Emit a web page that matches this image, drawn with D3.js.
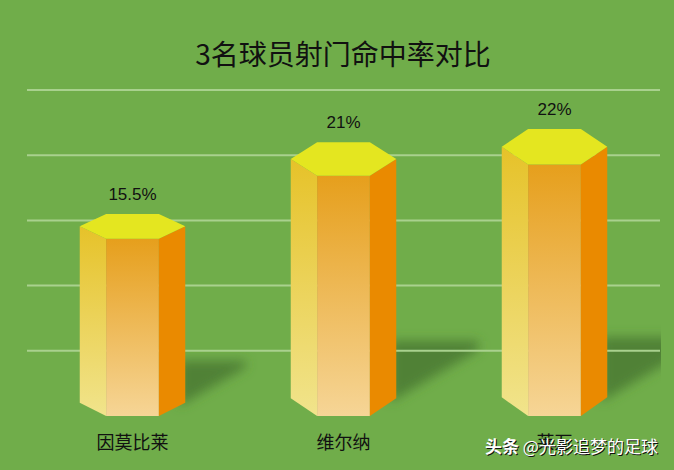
<!DOCTYPE html>
<html lang="zh">
<head>
  <meta charset="UTF-8">
  <title>3名球员射门命中率对比</title>
  <script src="https://d3js.org/d3.v7.min.js"></script>
  <style>
    html, body { margin: 0; padding: 0; background: #70ad4a; }
    svg { display: block; }
    text { font-family: "Noto Sans CJK SC", "Liberation Sans", sans-serif; }
  </style>
</head>
<body>
  <div id="root"></div>
  <script>
    // 数据
    const players = ['因莫比莱', '维尔纳', '莱万']
    const rates = [15.5, 21, 22]
    const rateLabels = ['15.5%', '21%', '22%']
    const yTicks = [5, 10, 15, 20, 25]

    const width = 674
    const height = 470

    const svg = d3.select('#root')
      .append('svg')
      .attr('width', width)
      .attr('height', height)
      .style('background', '#70ad4a')

    const defs = svg.append('defs')

    const grad = (id, top, bottom) => {
      const g = defs.append('linearGradient')
        .attr('id', id)
        .attr('x1', 0).attr('y1', 0).attr('x2', 0).attr('y2', 1)
      g.append('stop').attr('offset', '0%').attr('stop-color', top)
      g.append('stop').attr('offset', '100%').attr('stop-color', bottom)
    }
    grad('leftFace', '#e6c229', '#f1e48c')
    grad('frontFace', '#e69f1c', '#f6d596')

    defs.append('filter')
      .attr('id', 'blur')
      .attr('x', '-30%').attr('y', '-30%').attr('width', '160%').attr('height', '160%')
      .append('feGaussianBlur')
      .attr('stdDeviation', 5.5)

    defs.append('clipPath')
      .attr('id', 'plotClip')
      .append('rect')
      .attr('x', 0).attr('y', 0).attr('width', 661).attr('height', height)

    // 比例尺
    const x = d3.scaleBand()
      .domain(players)
      .range([27, 660])
      .paddingInner(0.5)
      .paddingOuter(0.25)

    const y = d3.scaleLinear()
      .domain([0, 25])
      .range([416, 90])

    const rows = players.map((name, i) => ({name, rate: rates[i], label: rateLabels[i]}))
    const line = d3.line()

    // 阴影
    svg.append('g')
      .attr('clip-path', 'url(#plotClip)')
      .selectAll('path')
      .data(rows)
      .enter()
      .append('path')
      .attr('fill', '#4a7a34')
      .attr('fill-opacity', 0.85)
      .attr('filter', 'url(#blur)')
      .attr('d', d => {
        const h = y(0) - y(d.rate)
        const r = x(d.name) + x.bandwidth()
        return line([
          [r - 6, y(0) - h * 0.05],
          [r - 6, y(0) - h * 0.275],
          [r + h * 0.3, y(0) - h * 0.275],
          [r + h * 0.3, y(0) - h * 0.24]
        ]) + 'Z'
      })

    // 网格线
    const yAxis = d3.axisLeft(y).tickValues(yTicks).tickSize(-633).tickFormat('').offset(0)
    const yAxisG = svg.append('g')
      .attr('transform', 'translate(27,0)')
      .call(yAxis)
    yAxisG.select('.domain').remove()
    yAxisG.selectAll('line')
      .attr('stroke', '#a9d18e')
      .attr('stroke-width', 2)

    // 六棱柱
    const bars = svg.append('g')
      .selectAll('g')
      .data(rows)
      .enter()
      .append('g')

    const faces = d => {
      const h = y(0) - y(d.rate)
      const l = x(d.name)
      const r = l + x.bandwidth()
      const fl = l + x.bandwidth() * 0.25
      const fr = l + x.bandwidth() * 0.75
      const t = y(d.rate)
      return {
        left: [[l, t + h * 0.0615], [fl, t + h * 0.123], [fl, y(0)], [l, y(0) - h * 0.065]],
        front: [[fl, t + h * 0.123], [fr, t + h * 0.123], [fr, y(0)], [fl, y(0)]],
        right: [[fr, t + h * 0.123], [r, t + h * 0.0615], [r, y(0) - h * 0.065], [fr, y(0)]],
        top: [[fl, t], [fr, t], [r, t + h * 0.0615], [fr, t + h * 0.123], [fl, t + h * 0.123], [l, t + h * 0.0615]]
      }
    }

    bars.append('path').attr('fill', 'url(#leftFace)').attr('d', d => line(faces(d).left) + 'Z')
    bars.append('path').attr('fill', 'url(#frontFace)').attr('d', d => line(faces(d).front) + 'Z')
    bars.append('path').attr('fill', '#ea8a00').attr('d', d => line(faces(d).right) + 'Z')
    bars.append('path').attr('fill', '#e4e620').attr('d', d => line(faces(d).top) + 'Z')

    // 数值标签
    bars.append('text')
      .attr('x', d => x(d.name) + x.bandwidth() / 2)
      .attr('y', d => y(d.rate) - 14)
      .attr('text-anchor', 'middle')
      .attr('font-size', 17)
      .style('font-family', '"Liberation Sans", sans-serif')
      .attr('fill', '#111')
      .text(d => d.label)

    // x轴标签
    const xAxis = d3.axisBottom(x).tickSize(0).tickPadding(0)
    const xAxisG = svg.append('g')
      .attr('transform', 'translate(0,436)')
      .call(xAxis)
    xAxisG.select('.domain').remove()
    xAxisG.selectAll('text')
      .attr('font-size', 18)
      .attr('fill', '#111')
      .style('font-family', '"Noto Sans CJK SC", sans-serif')

    // 标题
    svg.append('text')
      .attr('x', 343)
      .attr('y', 65)
      .attr('text-anchor', 'middle')
      .attr('font-size', 28)
      .attr('fill', '#111')
      .text('3名球员射门命中率对比')

    // 水印
    const mark = svg.append('g').attr('transform', 'translate(485,453)')
    const drawMark = (dx, dy, fill) => {
      const t = mark.append('text')
        .attr('x', dx)
        .attr('y', dy)
        .attr('font-size', 17)
        .attr('fill', fill)
      t.append('tspan').attr('font-weight', 700).text('头条 ')
      t.append('tspan').text('@光影追梦的足球')
    }
    drawMark(1, 1, '#111')
    drawMark(0, 0, '#fff')
  </script>
</body>
</html>
